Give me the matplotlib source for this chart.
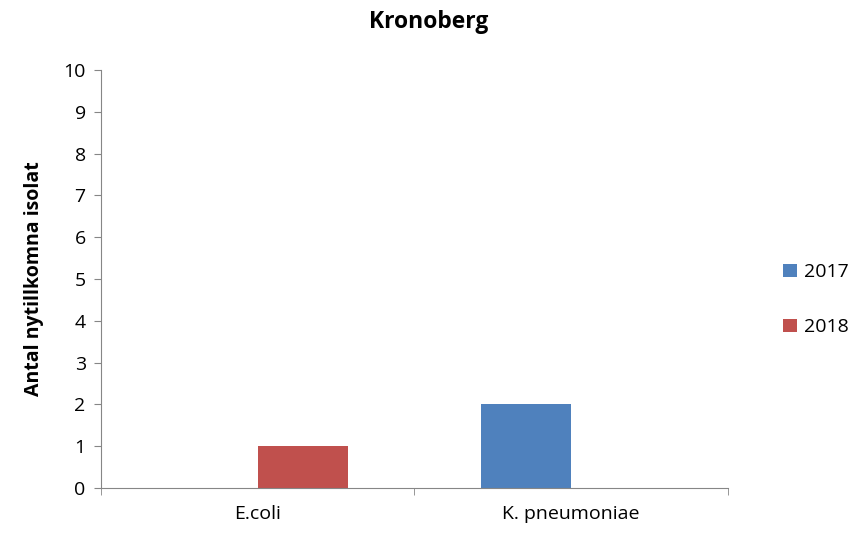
import matplotlib
matplotlib.use("Agg")
import matplotlib.pyplot as plt
import numpy as np

plt.rcParams['font.family'] = ['Open Sans', 'DejaVu Sans']

# Data
categories = ['E.coli', 'K. pneumoniae']
years = ['2017', '2018']
values_2017 = [0, 2]
values_2018 = [1, 0]
colors = ['#4F81BD', '#C0504D']

fig = plt.figure(figsize=(8.63, 5.35), dpi=100)
ax = fig.add_axes([0.117, 0.088, 0.7265, 0.781])

x = np.arange(len(categories))
w = 0.287
ax.bar(x - w/2, values_2017, w, color=colors[0], label=years[0])
ax.bar(x + w/2, values_2018, w, color=colors[1], label=years[1])

ax.set_xlim(-0.5, len(categories) - 0.5)
ax.set_ylim(0, 10)
ax.set_yticks(range(0, 11))
ax.tick_params(axis='y', labelsize=14, direction='out', length=5, color='#868686', pad=6)
ax.set_xticks(x)
ax.set_xticklabels(categories, fontsize=14)
ax.tick_params(axis='x', length=0, pad=12)
ax.set_xticks(np.arange(-0.5, len(categories)), minor=True)
ax.tick_params(axis='x', which='minor', length=5, color='#868686', direction='out')

for s in ['top', 'right']:
    ax.spines[s].set_visible(False)
for s in ['left', 'bottom']:
    ax.spines[s].set_color('#868686')

ax.set_ylabel('Antal nytillkomna isolat', fontsize=14, fontweight='bold', labelpad=14)
fig.suptitle('Kronoberg', fontsize=16.5, fontweight='bold', x=0.497, y=0.982)

ax.legend(loc='center left', bbox_to_anchor=(1.06, 0.45), frameon=False,
          fontsize=14, handlelength=0.7, handleheight=0.7, labelspacing=1.9,
          handletextpad=0.4)

fig.savefig('out.png', dpi=100)
